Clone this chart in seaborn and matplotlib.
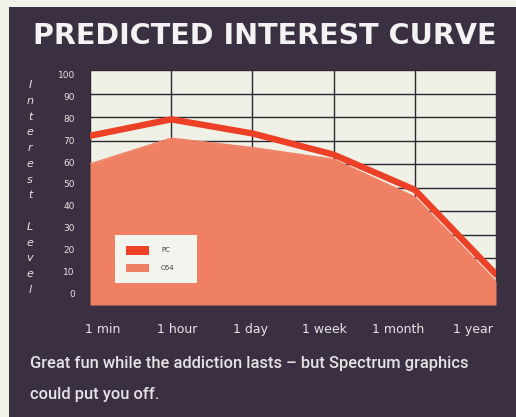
import matplotlib
matplotlib.use("Agg")
import matplotlib.pyplot as plt
from matplotlib.patches import Patch, Rectangle
import numpy as np
import pandas as pd
import seaborn as sns

# Interest over time for each machine (percent)
periods = ["1 min", "1 hour", "1 day", "1 week", "1 month", "1 year"]
pc_interest = [72, 79, 73, 64, 49, 13]
c64_interest = [60, 71, 67, 62, 46, 10]
level_ticks = [0, 10, 20, 30, 40, 50, 60, 70, 80, 90, 100]

title = "PREDICTED INTEREST CURVE"
caption = ("Great fun while the addiction lasts \u2013 but Spectrum graphics\n"
           "could put you off.")
ylabel = "Interest Level"

PANEL = "#3b3041"
CREAM = "#eff1e7"
PC_RED = "#ec4127"
C64_SALMON = "#ef8063"
TEXT = "#e6e3e6"

sns.set_theme(style="white")
plt.rcParams["font.family"] = ["DejaVu Sans"]

df = pd.DataFrame({"x": np.arange(len(periods)), "PC": pc_interest, "C64": c64_interest})

fig = plt.figure(figsize=(5.16, 4.17), dpi=100)
fig.patch.set_facecolor("#f1f2e8")
fig.patches.append(Rectangle((9 / 516, 0), 1 - 9 / 516, 1 - 7 / 417,
                             transform=fig.transFigure, facecolor=PANEL,
                             edgecolor="none", zorder=-5))

ax = fig.add_axes([90 / 516, 1 - 305 / 417, 406 / 516, 235 / 417])
ax.set_zorder(2)
ax.set_facecolor(CREAM)

# C64 as a filled area, PC as a heavy line above it
ax.fill_between(df["x"], 0, df["C64"], color=C64_SALMON, lw=0, zorder=2)
sns.lineplot(data=df, x="x", y="C64", ax=ax, color=C64_SALMON, lw=1, zorder=2)
sns.lineplot(data=df, x="x", y="PC", ax=ax, color=PC_RED, lw=4.6, zorder=3,
             solid_joinstyle="miter")

ax.set_xlim(0, len(periods) - 1)
ax.set_ylim(0, 100)
ax.set_xticks(df["x"])
ax.set_yticks(level_ticks)
ax.set_xticklabels([])
ax.set_yticklabels([])
ax.tick_params(length=0)
ax.grid(True, color="#2b2630", lw=1.0, zorder=1)
ax.set_axisbelow(True)
ax.set_xlabel("")
ax.set_ylabel("")
for sp in ax.spines.values():
    sp.set_visible(False)

# Printed scale labels sit slightly inside the grid extent
sec_y = ax.secondary_yaxis("left", functions=(lambda y: (y - 5.0) / 0.93,
                                              lambda s: 5.0 + s * 0.93))
sec_y.set_yticks(level_ticks)
sec_y.set_yticklabels([str(v) for v in level_ticks])
sec_y.tick_params(length=0, pad=11, labelsize=6.5, labelcolor=TEXT)
sec_y.spines["left"].set_visible(False)

sec_x = ax.secondary_xaxis("bottom", functions=(lambda x: (x - 0.16) / 0.91,
                                                lambda s: 0.16 + s * 0.91))
sec_x.set_xticks(range(len(periods)))
sec_x.set_xticklabels(periods)
sec_x.tick_params(length=0, pad=13, labelsize=9, labelcolor=TEXT)
sec_x.spines["bottom"].set_visible(False)

# Vertical stacked axis caption
letters = [c for c in ylabel]
ys = np.linspace(1 - 85 / 417, 1 - 290 / 417, len(letters))
for ch, yy in zip(letters, ys):
    if ch == " ":
        continue
    fig.text(30 / 516, yy, ch, color=TEXT, fontsize=8, fontstyle="italic",
             ha="center", va="center")

fig.text(265 / 516, 1 - 36 / 417, title, color="#f4f2f2", fontsize=20.6,
         fontweight="bold", family=["DejaVu Sans"], ha="center", va="center")

fig.text(30 / 516, 1 - 379 / 417, caption, color=TEXT, fontsize=11.9,
         family=["Roboto", "DejaVu Sans"], fontweight="medium", ha="left",
         va="center", linespacing=2.3)

handles = [Patch(facecolor=PC_RED, edgecolor="none", label="PC"),
           Patch(facecolor=C64_SALMON, edgecolor="none", label="C64")]
leg = ax.legend(handles=handles, loc="lower left",
                bbox_to_anchor=(0.062, 0.094, 0.202, 0.22), mode="expand",
                borderaxespad=0.0, frameon=True, fontsize=5, handlelength=3.3,
                handleheight=1.6, borderpad=1.5, labelspacing=1.3,
                handletextpad=1.8, fancybox=False)
leg.get_frame().set_facecolor("#f4f4ee")
leg.get_frame().set_edgecolor("none")
leg.get_frame().set_alpha(1)
leg.set_zorder(5)
for t in leg.get_texts():
    t.set_color("#3a3a3a")

fig.savefig("out.png", dpi=100)
